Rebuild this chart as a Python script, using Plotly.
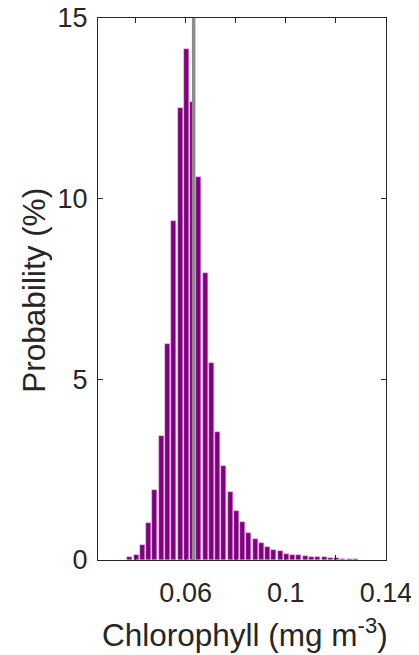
import plotly.graph_objects as go

bin_centers = [0.03775, 0.04025, 0.04275, 0.04525, 0.04775, 0.05025, 0.05275, 0.05525,
               0.05775, 0.06025, 0.06275, 0.06525, 0.06775, 0.07025, 0.07275, 0.07525,
               0.07775, 0.08025, 0.08275, 0.08525, 0.08775, 0.09025, 0.09275, 0.09525,
               0.09775, 0.10025, 0.10275, 0.10525, 0.10775, 0.11025, 0.11275, 0.11525,
               0.11775, 0.12025, 0.12275, 0.12525, 0.12775]
probability = [0.07, 0.14, 0.42, 1.02, 1.93, 3.43, 5.98, 9.38,
               12.5, 14.15, 12.67, 10.59, 7.93, 5.45, 3.55, 2.59,
               1.87, 1.37, 1.06, 0.75, 0.57, 0.46, 0.37, 0.29,
               0.24, 0.18, 0.15, 0.13, 0.10, 0.09, 0.07, 0.07,
               0.06, 0.05, 0.04, 0.04, 0.035]
mean_value = 0.0632

x_tickvals = [0.04, 0.06, 0.08, 0.10, 0.12, 0.14]
x_ticktext = ["", "0.06", "", "0.1", "", "0.14"]
y_tickvals = [0, 5, 10, 15]
y_ticktext = ["0", "5", "10", "15"]
x_title = "Chlorophyll (mg m<sup>-3</sup>)"
y_title = "Probability (%)"

FONT = "Liberation Sans, Arial, sans-serif"
AX = "#262626"

fig = go.Figure()
fig.add_trace(go.Bar(
    x=bin_centers, y=probability, width=0.002,
    marker=dict(color="#800080", line=dict(color="rgba(230,180,230,0.9)", width=0.5)),
    showlegend=False,
))
fig.add_shape(type="line", xref="x", yref="paper", x0=mean_value, x1=mean_value,
              y0=0, y1=1, line=dict(color="#8c8c8c", width=3.5))

# page body has an 8px margin, so the figure is sized to fit the 419x655 window
fig.update_layout(
    width=411, height=647,
    margin=dict(l=90, r=33, t=10, b=95, autoexpand=False),
    plot_bgcolor="white", paper_bgcolor="white",
    font=dict(family=FONT, color=AX),
    bargap=0,
)
fig.update_xaxes(
    range=[0.025, 0.14], tickvals=x_tickvals, ticktext=x_ticktext,
    ticks="inside", ticklen=5, tickcolor=AX, tickwidth=1,
    showline=True, linecolor=AX, linewidth=1, mirror="allticks",
    showgrid=False, zeroline=False, automargin=False, ticklabeloverflow="allow",
    tickfont=dict(size=27, family=FONT, color=AX), ticklabelstandoff=9,
)
fig.update_yaxes(
    range=[0, 15], tickvals=y_tickvals, ticktext=y_ticktext,
    ticks="inside", ticklen=5, tickcolor=AX, tickwidth=1,
    showline=True, linecolor=AX, linewidth=1, mirror="allticks",
    showgrid=False, zeroline=False, automargin=False, ticklabeloverflow="allow",
    tickfont=dict(size=27, family=FONT, color=AX), ticklabelstandoff=4,
)
fig.add_annotation(text=x_title, xref="paper", yref="paper", x=0.51, y=-0.135,
                   xanchor="center", yanchor="middle", showarrow=False,
                   font=dict(size=31.5, family=FONT, color=AX))
fig.add_annotation(text=y_title, xref="paper", yref="paper", x=-0.222, y=0.497,
                   xanchor="center", yanchor="middle", showarrow=False, textangle=-90,
                   font=dict(size=31.5, family=FONT, color=AX))

fig.write_html("out.html")
